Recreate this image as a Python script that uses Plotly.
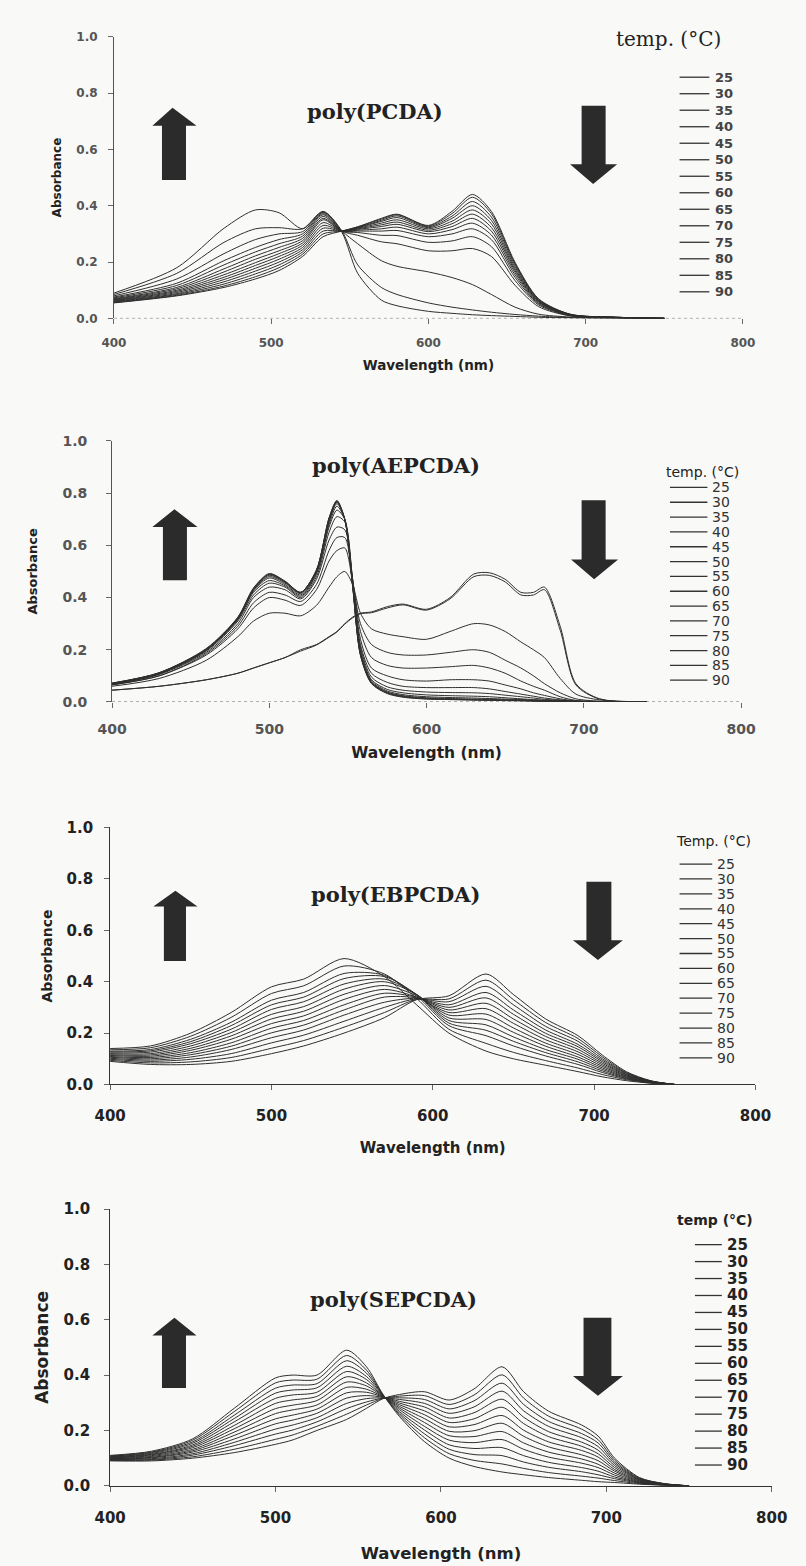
import plotly.graph_objects as go

W, H = 806, 1566

TEMPS = [25, 30, 35, 40, 45, 50, 55, 60, 65, 70, 75, 80, 85, 90]

# ---------------- poly(PCDA) ----------------
PCDA_WL = [400, 440, 470, 490, 505, 520, 533, 545, 555, 570, 580, 600, 615, 628, 640, 655, 670, 690, 720, 750]
PCDA_ABS = [
    [0.055, 0.080, 0.110, 0.140, 0.170, 0.220, 0.290, 0.310, 0.325, 0.355, 0.370, 0.330, 0.380, 0.440, 0.380, 0.200, 0.070, 0.015, 0.004, 0.0],
    [0.056, 0.082, 0.115, 0.148, 0.180, 0.228, 0.300, 0.310, 0.325, 0.352, 0.368, 0.328, 0.372, 0.430, 0.372, 0.195, 0.068, 0.015, 0.004, 0.0],
    [0.058, 0.085, 0.122, 0.158, 0.190, 0.236, 0.310, 0.310, 0.323, 0.348, 0.364, 0.325, 0.363, 0.415, 0.360, 0.190, 0.066, 0.014, 0.004, 0.0],
    [0.060, 0.088, 0.130, 0.168, 0.200, 0.244, 0.320, 0.310, 0.322, 0.344, 0.358, 0.322, 0.355, 0.400, 0.348, 0.183, 0.064, 0.014, 0.004, 0.0],
    [0.062, 0.092, 0.138, 0.178, 0.210, 0.252, 0.330, 0.310, 0.320, 0.338, 0.350, 0.318, 0.345, 0.385, 0.336, 0.176, 0.062, 0.013, 0.003, 0.0],
    [0.064, 0.096, 0.146, 0.188, 0.220, 0.260, 0.340, 0.310, 0.318, 0.332, 0.342, 0.313, 0.336, 0.370, 0.323, 0.170, 0.060, 0.013, 0.003, 0.0],
    [0.066, 0.100, 0.155, 0.198, 0.230, 0.268, 0.350, 0.310, 0.316, 0.326, 0.334, 0.308, 0.326, 0.355, 0.310, 0.163, 0.058, 0.012, 0.003, 0.0],
    [0.068, 0.105, 0.165, 0.210, 0.240, 0.276, 0.355, 0.310, 0.313, 0.318, 0.324, 0.300, 0.315, 0.338, 0.296, 0.155, 0.055, 0.012, 0.003, 0.0],
    [0.070, 0.110, 0.176, 0.222, 0.252, 0.284, 0.362, 0.310, 0.310, 0.310, 0.312, 0.290, 0.300, 0.318, 0.280, 0.146, 0.052, 0.011, 0.003, 0.0],
    [0.073, 0.117, 0.190, 0.236, 0.265, 0.292, 0.368, 0.310, 0.305, 0.295, 0.294, 0.270, 0.275, 0.290, 0.255, 0.135, 0.048, 0.010, 0.003, 0.0],
    [0.076, 0.125, 0.205, 0.252, 0.280, 0.300, 0.372, 0.310, 0.295, 0.272, 0.265, 0.240, 0.240, 0.248, 0.220, 0.118, 0.042, 0.009, 0.002, 0.0],
    [0.080, 0.140, 0.230, 0.280, 0.300, 0.308, 0.376, 0.310, 0.265, 0.205, 0.185, 0.165, 0.145, 0.120, 0.085, 0.040, 0.015, 0.005, 0.001, 0.0],
    [0.085, 0.160, 0.270, 0.318, 0.322, 0.318, 0.380, 0.310, 0.190, 0.110, 0.085, 0.055, 0.040, 0.030, 0.022, 0.014, 0.008, 0.003, 0.001, 0.0],
    [0.090, 0.180, 0.320, 0.385, 0.375, 0.318, 0.378, 0.305, 0.160, 0.065, 0.045, 0.025, 0.018, 0.013, 0.010, 0.007, 0.004, 0.002, 0.001, 0.0],
]

# ---------------- poly(AEPCDA) ----------------
AEPCDA_WL = [400, 430, 460, 480, 490, 500, 510, 520, 530, 538, 543, 548, 553, 558, 565, 575, 585, 600, 615, 630, 640, 650, 660, 668, 675, 685, 695, 710, 740]
AEPCDA_ABS = [
    [0.045, 0.060, 0.085, 0.110, 0.130, 0.150, 0.170, 0.200, 0.220, 0.250, 0.270, 0.300, 0.325, 0.340, 0.345, 0.365, 0.375, 0.355, 0.400, 0.490, 0.495, 0.470, 0.420, 0.420, 0.440, 0.290, 0.070, 0.012, 0.0],
    [0.045, 0.060, 0.085, 0.110, 0.130, 0.150, 0.170, 0.195, 0.218, 0.248, 0.268, 0.298, 0.322, 0.338, 0.342, 0.360, 0.372, 0.352, 0.395, 0.480, 0.485, 0.460, 0.410, 0.410, 0.430, 0.275, 0.065, 0.011, 0.0],
    [0.060, 0.090, 0.160, 0.250, 0.310, 0.340, 0.340, 0.330, 0.370, 0.440, 0.480, 0.500, 0.450, 0.340, 0.280, 0.260, 0.250, 0.240, 0.270, 0.300, 0.295, 0.270, 0.230, 0.200, 0.170, 0.090, 0.030, 0.008, 0.0],
    [0.065, 0.100, 0.180, 0.280, 0.360, 0.400, 0.390, 0.370, 0.430, 0.540, 0.580, 0.590, 0.460, 0.300, 0.220, 0.190, 0.180, 0.180, 0.190, 0.200, 0.190, 0.160, 0.130, 0.100, 0.070, 0.035, 0.012, 0.003, 0.0],
    [0.066, 0.100, 0.185, 0.290, 0.380, 0.420, 0.410, 0.385, 0.450, 0.580, 0.630, 0.630, 0.470, 0.270, 0.170, 0.140, 0.130, 0.130, 0.135, 0.140, 0.130, 0.110, 0.080, 0.060, 0.045, 0.020, 0.006, 0.002, 0.0],
    [0.067, 0.105, 0.190, 0.300, 0.400, 0.440, 0.430, 0.395, 0.470, 0.620, 0.670, 0.660, 0.470, 0.240, 0.130, 0.100, 0.085, 0.080, 0.085, 0.085, 0.080, 0.065, 0.050, 0.035, 0.025, 0.012, 0.004, 0.001, 0.0],
    [0.068, 0.107, 0.195, 0.310, 0.410, 0.455, 0.440, 0.400, 0.480, 0.650, 0.710, 0.690, 0.470, 0.220, 0.110, 0.075, 0.060, 0.055, 0.055, 0.055, 0.050, 0.040, 0.030, 0.022, 0.015, 0.008, 0.003, 0.001, 0.0],
    [0.069, 0.108, 0.198, 0.315, 0.420, 0.465, 0.445, 0.405, 0.490, 0.670, 0.735, 0.700, 0.460, 0.210, 0.095, 0.058, 0.045, 0.038, 0.036, 0.035, 0.032, 0.026, 0.020, 0.015, 0.010, 0.006, 0.002, 0.001, 0.0],
    [0.070, 0.109, 0.200, 0.318, 0.425, 0.475, 0.450, 0.410, 0.495, 0.680, 0.750, 0.700, 0.455, 0.200, 0.085, 0.048, 0.035, 0.027, 0.024, 0.022, 0.020, 0.016, 0.012, 0.009, 0.007, 0.004, 0.002, 0.001, 0.0],
    [0.070, 0.110, 0.200, 0.320, 0.430, 0.480, 0.455, 0.415, 0.500, 0.690, 0.760, 0.700, 0.450, 0.190, 0.080, 0.042, 0.028, 0.020, 0.017, 0.015, 0.013, 0.011, 0.009, 0.007, 0.005, 0.003, 0.001, 0.0, 0.0],
    [0.070, 0.110, 0.200, 0.320, 0.430, 0.485, 0.458, 0.418, 0.500, 0.695, 0.765, 0.700, 0.450, 0.185, 0.076, 0.038, 0.024, 0.016, 0.013, 0.011, 0.010, 0.008, 0.007, 0.005, 0.004, 0.002, 0.001, 0.0, 0.0],
    [0.071, 0.111, 0.202, 0.322, 0.433, 0.488, 0.460, 0.420, 0.505, 0.700, 0.768, 0.700, 0.448, 0.182, 0.074, 0.036, 0.022, 0.014, 0.011, 0.009, 0.008, 0.007, 0.006, 0.004, 0.003, 0.002, 0.001, 0.0, 0.0],
    [0.072, 0.112, 0.203, 0.323, 0.435, 0.490, 0.462, 0.420, 0.505, 0.705, 0.770, 0.700, 0.445, 0.180, 0.072, 0.034, 0.020, 0.012, 0.010, 0.008, 0.007, 0.006, 0.005, 0.004, 0.003, 0.002, 0.001, 0.0, 0.0],
    [0.072, 0.112, 0.205, 0.325, 0.437, 0.492, 0.463, 0.420, 0.505, 0.705, 0.772, 0.700, 0.442, 0.178, 0.070, 0.032, 0.018, 0.011, 0.009, 0.007, 0.006, 0.005, 0.004, 0.003, 0.002, 0.001, 0.001, 0.0, 0.0],
]

# ---------------- poly(EBPCDA) ----------------
EBPCDA_WL = [400, 425, 450, 475, 500, 520, 545, 570, 590, 610, 633, 650, 670, 690, 705, 720, 735, 750]
EBPCDA_ABS = [
    [0.090, 0.078, 0.078, 0.090, 0.120, 0.150, 0.200, 0.260, 0.330, 0.345, 0.430, 0.350, 0.255, 0.190, 0.115, 0.050, 0.015, 0.0],
    [0.094, 0.084, 0.088, 0.105, 0.141, 0.171, 0.223, 0.280, 0.331, 0.333, 0.406, 0.330, 0.241, 0.179, 0.108, 0.047, 0.014, 0.0],
    [0.098, 0.090, 0.098, 0.120, 0.162, 0.192, 0.246, 0.300, 0.333, 0.322, 0.382, 0.310, 0.226, 0.168, 0.101, 0.044, 0.013, 0.0],
    [0.102, 0.095, 0.107, 0.136, 0.182, 0.212, 0.270, 0.320, 0.335, 0.310, 0.358, 0.290, 0.212, 0.156, 0.095, 0.042, 0.013, 0.0],
    [0.106, 0.100, 0.116, 0.149, 0.201, 0.231, 0.290, 0.340, 0.337, 0.300, 0.337, 0.273, 0.199, 0.147, 0.089, 0.039, 0.012, 0.0],
    [0.109, 0.105, 0.124, 0.162, 0.219, 0.249, 0.310, 0.355, 0.339, 0.290, 0.316, 0.255, 0.187, 0.137, 0.083, 0.037, 0.011, 0.0],
    [0.113, 0.110, 0.133, 0.176, 0.237, 0.267, 0.331, 0.370, 0.340, 0.280, 0.295, 0.238, 0.174, 0.127, 0.077, 0.034, 0.011, 0.0],
    [0.116, 0.115, 0.141, 0.189, 0.255, 0.285, 0.351, 0.385, 0.345, 0.270, 0.274, 0.220, 0.161, 0.117, 0.071, 0.032, 0.010, 0.0],
    [0.120, 0.120, 0.150, 0.202, 0.273, 0.303, 0.371, 0.400, 0.350, 0.259, 0.253, 0.203, 0.149, 0.107, 0.065, 0.029, 0.009, 0.0],
    [0.123, 0.126, 0.159, 0.215, 0.292, 0.322, 0.391, 0.410, 0.350, 0.249, 0.232, 0.185, 0.136, 0.098, 0.059, 0.027, 0.008, 0.0],
    [0.127, 0.131, 0.167, 0.229, 0.310, 0.340, 0.412, 0.420, 0.350, 0.239, 0.211, 0.168, 0.124, 0.088, 0.053, 0.024, 0.008, 0.0],
    [0.130, 0.136, 0.176, 0.242, 0.328, 0.358, 0.432, 0.425, 0.345, 0.229, 0.190, 0.150, 0.111, 0.078, 0.047, 0.022, 0.007, 0.0],
    [0.135, 0.143, 0.188, 0.261, 0.354, 0.384, 0.461, 0.430, 0.335, 0.215, 0.160, 0.125, 0.093, 0.064, 0.039, 0.019, 0.006, 0.0],
    [0.140, 0.150, 0.200, 0.280, 0.380, 0.410, 0.490, 0.420, 0.310, 0.200, 0.130, 0.100, 0.075, 0.050, 0.030, 0.015, 0.005, 0.0],
]

# ---------------- poly(SEPCDA) ----------------
SEPCDA_WL = [400, 425, 450, 475, 500, 510, 525, 543, 555, 565, 575, 590, 605, 620, 637, 650, 665, 685, 695, 705, 720, 735, 750]
SEPCDA_ABS = [
    [0.090, 0.090, 0.100, 0.120, 0.150, 0.165, 0.200, 0.240, 0.280, 0.315, 0.330, 0.340, 0.310, 0.350, 0.430, 0.340, 0.270, 0.220, 0.180, 0.100, 0.030, 0.008, 0.0],
    [0.092, 0.093, 0.105, 0.132, 0.168, 0.183, 0.215, 0.259, 0.292, 0.316, 0.324, 0.326, 0.294, 0.328, 0.401, 0.317, 0.252, 0.205, 0.167, 0.093, 0.028, 0.008, 0.0],
    [0.093, 0.095, 0.111, 0.145, 0.187, 0.201, 0.231, 0.279, 0.303, 0.317, 0.318, 0.312, 0.278, 0.307, 0.371, 0.294, 0.233, 0.189, 0.155, 0.086, 0.026, 0.007, 0.0],
    [0.095, 0.098, 0.116, 0.157, 0.205, 0.219, 0.246, 0.298, 0.315, 0.318, 0.312, 0.298, 0.262, 0.285, 0.342, 0.271, 0.215, 0.174, 0.142, 0.080, 0.024, 0.007, 0.0],
    [0.096, 0.101, 0.122, 0.169, 0.224, 0.237, 0.262, 0.317, 0.326, 0.320, 0.305, 0.285, 0.245, 0.264, 0.313, 0.248, 0.196, 0.158, 0.129, 0.073, 0.023, 0.006, 0.0],
    [0.098, 0.103, 0.127, 0.182, 0.242, 0.255, 0.277, 0.336, 0.338, 0.321, 0.299, 0.271, 0.229, 0.242, 0.284, 0.225, 0.178, 0.143, 0.116, 0.066, 0.021, 0.006, 0.0],
    [0.099, 0.106, 0.132, 0.194, 0.261, 0.274, 0.292, 0.356, 0.349, 0.322, 0.293, 0.257, 0.213, 0.221, 0.254, 0.201, 0.159, 0.128, 0.104, 0.059, 0.019, 0.005, 0.0],
    [0.101, 0.109, 0.138, 0.206, 0.279, 0.291, 0.308, 0.375, 0.361, 0.323, 0.287, 0.243, 0.197, 0.199, 0.226, 0.179, 0.141, 0.112, 0.091, 0.053, 0.017, 0.005, 0.0],
    [0.102, 0.112, 0.143, 0.218, 0.298, 0.310, 0.323, 0.394, 0.372, 0.324, 0.281, 0.229, 0.181, 0.178, 0.196, 0.155, 0.122, 0.097, 0.078, 0.046, 0.015, 0.004, 0.0],
    [0.104, 0.114, 0.148, 0.231, 0.316, 0.328, 0.338, 0.413, 0.384, 0.325, 0.275, 0.215, 0.165, 0.156, 0.167, 0.132, 0.104, 0.082, 0.066, 0.039, 0.013, 0.004, 0.0],
    [0.105, 0.117, 0.154, 0.243, 0.335, 0.346, 0.354, 0.432, 0.395, 0.327, 0.268, 0.202, 0.148, 0.135, 0.138, 0.109, 0.085, 0.066, 0.053, 0.032, 0.012, 0.003, 0.0],
    [0.107, 0.120, 0.159, 0.255, 0.353, 0.364, 0.369, 0.452, 0.407, 0.328, 0.262, 0.188, 0.132, 0.113, 0.109, 0.086, 0.067, 0.051, 0.040, 0.026, 0.010, 0.003, 0.0],
    [0.108, 0.122, 0.165, 0.268, 0.372, 0.382, 0.385, 0.471, 0.418, 0.329, 0.256, 0.174, 0.116, 0.092, 0.079, 0.063, 0.048, 0.035, 0.028, 0.019, 0.008, 0.002, 0.0],
    [0.110, 0.125, 0.170, 0.280, 0.390, 0.400, 0.400, 0.490, 0.430, 0.330, 0.250, 0.160, 0.100, 0.070, 0.050, 0.040, 0.030, 0.020, 0.015, 0.012, 0.006, 0.002, 0.0],
]

X_TICKS = [400, 500, 600, 700, 800]
Y_TICKS = [0.0, 0.2, 0.4, 0.6, 0.8, 1.0]
Y_TICK_TEXT = ["0.0", "0.2", "0.4", "0.6", "0.8", "1.0"]
TITLES = ["poly(PCDA)", "poly(AEPCDA)", "poly(EBPCDA)", "poly(SEPCDA)"]
LEGEND_TITLES = ["temp. (\u00b0C)", "temp. (\u00b0C)", "Temp. (\u00b0C)", "temp (\u00b0C)"]
X_TITLE = "Wavelength (nm)"
Y_TITLE = "Absorbance"

# ---------------- layout (pixel geometry of each panel) ----------------
SANS = "DejaVu Sans, Liberation Sans, Arial"
SERIF = "DejaVu Serif, Liberation Serif, Times New Roman"
PANELS = [
    dict(wl=PCDA_WL, ab=PCDA_ABS, box=(102, 757, 28, 313), tick=12, tickcol="#555",
         ystand=8, xstand=8, title_xy=(374, 104), xt=(13.5, 11), yt=(12, 12),
         leg_title=(679, 30, 20, SERIF, "normal"), leg=(691, 722, 726, 69, 16.7, 13, "bold", "#444"),
         xaxis_dotted=True,
         up=(163, 100, 142, 188, 118, 152, 177, 173), down=(98, 589, 614, 157, 577, 626, 601, 177)),
    dict(wl=AEPCDA_WL, ab=AEPCDA_ABS, box=(100, 755, 437, 701), tick=14, tickcol="#555",
         ystand=16, xstand=9, title_xy=(396, 462), xt=(15.5, 11), yt=(13, 21),
         leg_title=(715, 468, 14, SANS, "normal"), leg=(681, 720, 723, 484, 15.0, 14, "normal", "#333"),
         xaxis_dotted=True,
         up=(165, 506, 142, 189, 524, 153, 178, 578), down=(497, 589, 614, 557, 578, 627, 602, 577)),
    dict(wl=EBPCDA_WL, ab=EBPCDA_ABS, box=(98, 770, 828, 1088), tick=15, tickcol="#222",
         ystand=8, xstand=13, title_xy=(396, 896), xt=(15, 18), yt=(14, 10),
         leg_title=(726, 842, 14, SANS, "normal"), leg=(691, 725, 728, 865, 15.08, 14, "normal", "#333"),
         xaxis_dotted=False,
         up=(166, 892, 143, 189, 908, 154, 177, 963), down=(883, 594, 620, 942, 580, 632, 606, 962)),
    dict(wl=SEPCDA_WL, ab=SEPCDA_ABS, box=(98, 787, 1214, 1494), tick=15, tickcol="#222",
         ystand=11, xstand=13, title_xy=(393, 1306), xt=(16.5, 21), yt=(17, 10),
         leg_title=(728, 1225, 14, SANS, "bold"), leg=(707, 735, 738, 1250, 17.15, 15, "bold", "#222"),
         xaxis_dotted=False,
         up=(165, 1324, 142, 188, 1342, 152, 177, 1395), down=(1324, 591, 620, 1383, 580, 632, 606, 1403)),
]

LINE_COLOR = "#2f2f2f"
ARROW_COLOR = "#2b2b2b"
BG = "#f9f9f7"


def px(x):
    return x / W


def py(y):
    return 1 - y / H


fig = go.Figure()
shapes = []
annotations = []
layout = {}

for i, P in enumerate(PANELS):
    n = "" if i == 0 else str(i + 1)
    xa, ya = "x" + n, "y" + n
    for t, row in zip(TEMPS, P["ab"]):
        fig.add_trace(go.Scatter(
            x=P["wl"], y=row, mode="lines", name=f"{t} \u00b0C",
            line=dict(color=LINE_COLOR, width=1, shape="spline", smoothing=0.8),
            xaxis=xa, yaxis=ya, showlegend=False))

    x0, x1, y0, y1 = P["box"]
    tf = dict(family=SANS, size=P["tick"], color=P["tickcol"], weight="bold")
    xts, xtstand = P["xt"]
    yts, ytstand = P["yt"]
    layout["xaxis" + n] = dict(
        domain=[px(x0), px(x1)], range=[400, 800], anchor=ya,
        tickvals=X_TICKS, ticktext=[str(v) for v in X_TICKS], tickfont=tf,
        showline=not P["xaxis_dotted"], linecolor="#333", linewidth=1,
        ticks="outside", ticklen=5, tickcolor="#666", showgrid=False, zeroline=False,
        ticklabelstandoff=P["xstand"],
        title=dict(text=X_TITLE, standoff=xtstand,
                   font=dict(family=SANS, size=xts, color="#222", weight="bold")))
    layout["yaxis" + n] = dict(
        domain=[py(y1), py(y0)], range=[0, 1.0], anchor=xa,
        tickvals=Y_TICKS, ticktext=Y_TICK_TEXT, tickfont=tf,
        showline=True, linecolor="#555" if P["xaxis_dotted"] else "#333", linewidth=1,
        ticks="outside", ticklen=5, tickcolor="#666", showgrid=False, zeroline=False,
        ticklabelstandoff=P["ystand"],
        title=dict(text=Y_TITLE, standoff=ytstand,
                   font=dict(family=SANS, size=yts, color="#222", weight="bold")))

    if P["xaxis_dotted"]:
        shapes.append(dict(type="line", xref=xa + " domain", yref=ya, x0=0, x1=1, y0=0, y1=0,
                           line=dict(color="#777", width=1, dash="dot"), layer="below"))

    # panel title
    tx, ty = P["title_xy"]
    annotations.append(dict(x=px(tx), y=py(ty), xref="paper", yref="paper", text=TITLES[i],
                            showarrow=False, xanchor="center", yanchor="middle",
                            font=dict(family=SERIF, size=21, color="#222", weight="bold")))
    # legend
    lx, ly, lsz, lfam, lw = P["leg_title"]
    annotations.append(dict(x=px(lx), y=py(ly), xref="paper", yref="paper", text=LEGEND_TITLES[i],
                            showarrow=False, xanchor="center", yanchor="middle",
                            font=dict(family=lfam, size=lsz, color="#222", weight=lw)))
    l0, l1, lt, ly0, dy, fs, fw, fc = P["leg"]
    for k, t in enumerate(TEMPS):
        yy = ly0 + k * dy
        shapes.append(dict(type="line", xref="paper", yref="paper", x0=px(l0), x1=px(l1),
                           y0=py(yy), y1=py(yy), line=dict(color="#333", width=1.3)))
        annotations.append(dict(x=px(lt), y=py(yy), xref="paper", yref="paper", text=str(t),
                                showarrow=False, xanchor="left", yanchor="middle",
                                font=dict(family=SANS, size=fs, color=fc, weight=fw)))
    # arrows
    tipx, tipy, hx0, hx1, hb, sx0, sx1, sb = P["up"]
    path = (f"M {px(sx0)} {py(sb)} L {px(sx0)} {py(hb)} L {px(hx0)} {py(hb)} L {px(tipx)} {py(tipy)} "
            f"L {px(hx1)} {py(hb)} L {px(sx1)} {py(hb)} L {px(sx1)} {py(sb)} Z")
    shapes.append(dict(type="path", xref="paper", yref="paper", path=path,
                       fillcolor=ARROW_COLOR, line=dict(width=0)))
    top, dsx0, dsx1, dhb, dhx0, dhx1, dtx, dty = P["down"]
    path = (f"M {px(dsx0)} {py(top)} L {px(dsx1)} {py(top)} L {px(dsx1)} {py(dhb)} L {px(dhx1)} {py(dhb)} "
            f"L {px(dtx)} {py(dty)} L {px(dhx0)} {py(dhb)} L {px(dsx0)} {py(dhb)} Z")
    shapes.append(dict(type="path", xref="paper", yref="paper", path=path,
                       fillcolor=ARROW_COLOR, line=dict(width=0)))

fig.update_layout(
    width=W, height=H, margin=dict(l=0, r=0, t=0, b=0),
    paper_bgcolor=BG, plot_bgcolor=BG,
    shapes=shapes, annotations=annotations, showlegend=False,
    **layout)

fig.write_html("out.html")
